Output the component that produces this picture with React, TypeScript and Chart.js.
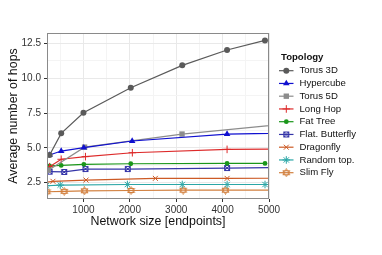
import React, { useEffect, useRef } from 'react';
import { Chart, registerables } from 'chart.js';
import { drawPoint } from 'chart.js/helpers';

Chart.register(...registerables);

const seriesNames = ['Torus 3D', 'Hypercube', 'Torus 5D', 'Long Hop', 'Fat Tree', 'Flat. Butterfly', 'Dragonfly', 'Random top.', 'Slim Fly'];

const torus3dX = [270, 520, 1000, 2020, 3130, 4096, 4913];
const torus3dY = [4.49, 6.04, 7.52, 9.31, 10.92, 12.02, 12.71];
const hypercubeX = [270, 520, 1008, 2050, 4096, 8192];
const hypercubeY = [4.49, 4.77, 5.01, 5.49, 5.99, 6.2];
const torus5dX = [243, 1024, 3125, 7776];
const torus5dY = [3.4, 5.05, 5.99, 7.5];
const longHopX = [270, 520, 1043, 2054, 4096, 8192];
const longHopY = [3.65, 4.18, 4.37, 4.65, 4.89, 4.95];
const fatTreeX = [270, 520, 1008, 2020, 4096, 4914];
const fatTreeY = [3.7, 3.74, 3.82, 3.86, 3.88, 3.88];
const flatBflyX = [270, 585, 1043, 1955, 4096, 6250];
const flatBflyY = [3.29, 3.27, 3.48, 3.48, 3.55, 3.62];
const dragonflyX = [72, 342, 1056, 2550, 4097, 5256];
const dragonflyY = [2.47, 2.6, 2.69, 2.81, 2.81, 2.82];
const randomX = [200, 499, 1947, 3130, 4097, 4914];
const randomY = [2.28, 2.33, 2.37, 2.37, 2.37, 2.37];
const slimFlyX = [214, 585, 1022, 2026, 3150, 4062, 5618];
const slimFlyY = [1.85, 1.88, 1.92, 1.94, 1.96, 1.96, 1.98];

const xMajorTicks = [1000, 2000, 3000, 4000, 5000];
const xMinorTicks = [500, 1500, 2500, 3500, 4500];
const yMajorTicks = [2.5, 5.0, 7.5, 10.0, 12.5];
const yMinorTicks = [3.75, 6.25, 8.75, 11.25];

const FONT = "'Liberation Sans', Arial, Helvetica, sans-serif";

function makeSquareCross(color: string): HTMLCanvasElement {
  const c = document.createElement('canvas');
  c.width = 8; c.height = 8;
  const g = c.getContext('2d')!;
  g.strokeStyle = color; g.lineWidth = 1;
  g.strokeRect(1.5, 1.5, 5, 5);
  g.beginPath();
  g.moveTo(1.5, 1.5); g.lineTo(6.5, 6.5);
  g.moveTo(6.5, 1.5); g.lineTo(1.5, 6.5);
  g.stroke();
  return c;
}

function makeHexagram(color: string): HTMLCanvasElement {
  const c = document.createElement('canvas');
  c.width = 9; c.height = 9;
  const g = c.getContext('2d')!;
  g.strokeStyle = color; g.lineWidth = 1;
  const cx = 4.5, cy = 4.5, r = 4;
  for (const rot of [-Math.PI / 2, Math.PI / 2]) {
    g.beginPath();
    for (let i = 0; i < 3; i++) {
      const a = rot + (i * 2 * Math.PI) / 3;
      const px = cx + r * Math.cos(a), py = cy + r * Math.sin(a);
      if (i === 0) g.moveTo(px, py); else g.lineTo(px, py);
    }
    g.closePath();
    g.stroke();
  }
  return c;
}

function pts(xs: number[], ys: number[]) {
  return xs.map((x, i) => ({ x, y: ys[i] }));
}

export default function App() {
  const ref = useRef<HTMLCanvasElement | null>(null);

  useEffect(() => {
    if (!ref.current) return;
    const cBfly = '#3535a8';
    const cSlim = '#d2803f';
    const specs = [
      { xs: torus3dX, ys: torus3dY, color: '#5a5a5a', style: 'circle', radius: 3 },
      { xs: hypercubeX, ys: hypercubeY, color: '#1010d0', style: 'triangle', radius: 3.8 },
      { xs: torus5dX, ys: torus5dY, color: '#8c8c8c', style: 'rect', radius: 3.8 },
      { xs: longHopX, ys: longHopY, color: '#dd2a2a', style: 'cross', radius: 3.8 },
      { xs: fatTreeX, ys: fatTreeY, color: '#1a961a', style: 'circle', radius: 2.4 },
      { xs: flatBflyX, ys: flatBflyY, color: cBfly, style: makeSquareCross(cBfly), radius: 3 },
      { xs: dragonflyX, ys: dragonflyY, color: '#cc5a25', style: 'crossRot', radius: 3.5 },
      { xs: randomX, ys: randomY, color: '#2aa6a6', style: 'star', radius: 3.8 },
      { xs: slimFlyX, ys: slimFlyY, color: cSlim, style: makeHexagram(cSlim), radius: 3 },
    ];
    const filled = (s: any) => s === 'circle' || s === 'triangle' || s === 'rect';

    const datasets = specs.map((s, i) => ({
      label: seriesNames[i],
      data: pts(s.xs, s.ys),
      borderColor: s.color,
      backgroundColor: s.color,
      borderWidth: 1.2,
      pointStyle: s.style as any,
      pointRadius: s.radius,
      pointBorderWidth: filled(s.style) ? 0 : 1,
      pointBackgroundColor: s.color,
      pointBorderColor: s.color,
      tension: 0,
    }));

    const framePlugin = {
      id: 'frame',
      afterDraw(chart: any) {
        const { ctx, chartArea: a } = chart;
        ctx.save();
        ctx.strokeStyle = '#8a8a8a';
        ctx.lineWidth = 1;
        ctx.strokeRect(Math.round(a.left) + 0.5, Math.round(a.top) + 0.5, Math.round(a.right - a.left) - 1, Math.round(a.bottom - a.top) - 1);
        ctx.restore();
      },
    };

    const legendPlugin = {
      id: 'ggLegend',
      afterDraw(chart: any) {
        const { ctx } = chart;
        ctx.save();
        ctx.fillStyle = '#111';
        ctx.font = `bold 9.6px ${FONT}`;
        ctx.textBaseline = 'middle';
        ctx.textAlign = 'left';
        ctx.fillText('Topology', 281, 57);
        ctx.font = `9.6px ${FONT}`;
        specs.forEach((s, i) => {
          const y = 70.7 + i * 12.75;
          ctx.strokeStyle = s.color;
          ctx.lineWidth = 1.2;
          ctx.beginPath();
          ctx.moveTo(279, y);
          ctx.lineTo(293.5, y);
          ctx.stroke();
          ctx.fillStyle = s.color;
          ctx.strokeStyle = s.color;
          ctx.lineWidth = filled(s.style) ? 0 : 1;
          drawPoint(ctx, { pointStyle: s.style as any, radius: s.radius, rotation: 0, borderWidth: filled(s.style) ? 0 : 1 } as any, 286.3, y);
          ctx.fillStyle = '#111';
          ctx.fillText(seriesNames[i], 299.5, y);
        });
        ctx.restore();
      },
    };

    const chart = new Chart(ref.current, {
      type: 'line',
      data: { datasets },
      plugins: [framePlugin, legendPlugin],
      options: {
        animation: false,
        responsive: false,
        layout: { padding: { left: 0, top: 33, right: 113, bottom: 0 } },
        plugins: { legend: { display: false }, tooltip: { enabled: false } },
        scales: {
          x: {
            type: 'linear',
            min: 214,
            max: 5000,
            afterFit(scale: any) { scale.height = 56; },
            afterBuildTicks(scale: any) {
              scale.ticks = [...xMinorTicks, ...xMajorTicks].sort((a, b) => a - b).map((v) => ({ value: v }));
            },
            border: { display: false },
            grid: {
              color: (c: any) => (c.tick && c.tick.value % 1000 === 0 ? '#e9e9e9' : '#f4f4f4'),
              tickColor: (c: any) => (c.tick && c.tick.value % 1000 === 0 ? '#333' : 'rgba(0,0,0,0)'),
              tickLength: 3,
              lineWidth: 1,
            },
            ticks: {
              autoSkip: false,
              maxRotation: 0,
              padding: 2,
              color: '#333',
              font: { family: FONT, size: 10 },
              callback: (v: any) => (xMajorTicks.includes(Number(v)) ? String(v) : ''),
            },
            title: {
              display: true,
              text: 'Network size [endpoints]',
              color: '#111',
              font: { family: FONT, size: 12.4 },
              padding: { top: 0, bottom: 26 },
            },
          },
          y: {
            type: 'linear',
            min: 1.33,
            max: 13.24,
            afterFit(scale: any) { scale.width = 47; },
            afterBuildTicks(scale: any) {
              scale.ticks = [...yMajorTicks, ...yMinorTicks].sort((a, b) => a - b).map((v) => ({ value: v }));
            },
            border: { display: false },
            grid: {
              color: (c: any) => (c.tick && yMajorTicks.includes(c.tick.value) ? '#e9e9e9' : '#f4f4f4'),
              tickColor: (c: any) => (c.tick && yMajorTicks.includes(c.tick.value) ? '#333' : 'rgba(0,0,0,0)'),
              tickLength: 3,
              lineWidth: 1,
            },
            ticks: {
              autoSkip: false,
              padding: 3,
              color: '#333',
              font: { family: FONT, size: 10 },
              callback: (v: any) => (yMajorTicks.includes(Number(v)) ? Number(v).toFixed(1) : ''),
            },
            title: {
              display: true,
              text: 'Average number of hops',
              color: '#111',
              font: { family: FONT, size: 12.4 },
              padding: { top: 6, bottom: 0 },
            },
          },
        },
      },
    } as any);

    return () => chart.destroy();
  }, []);

  return (
    <div style={{ position: 'absolute', left: 0, top: 0, width: 382, height: 255, background: '#fff' }}>
      <canvas ref={ref} width={382} height={255} style={{ width: 382, height: 255, display: 'block' }} />
    </div>
  );
}
